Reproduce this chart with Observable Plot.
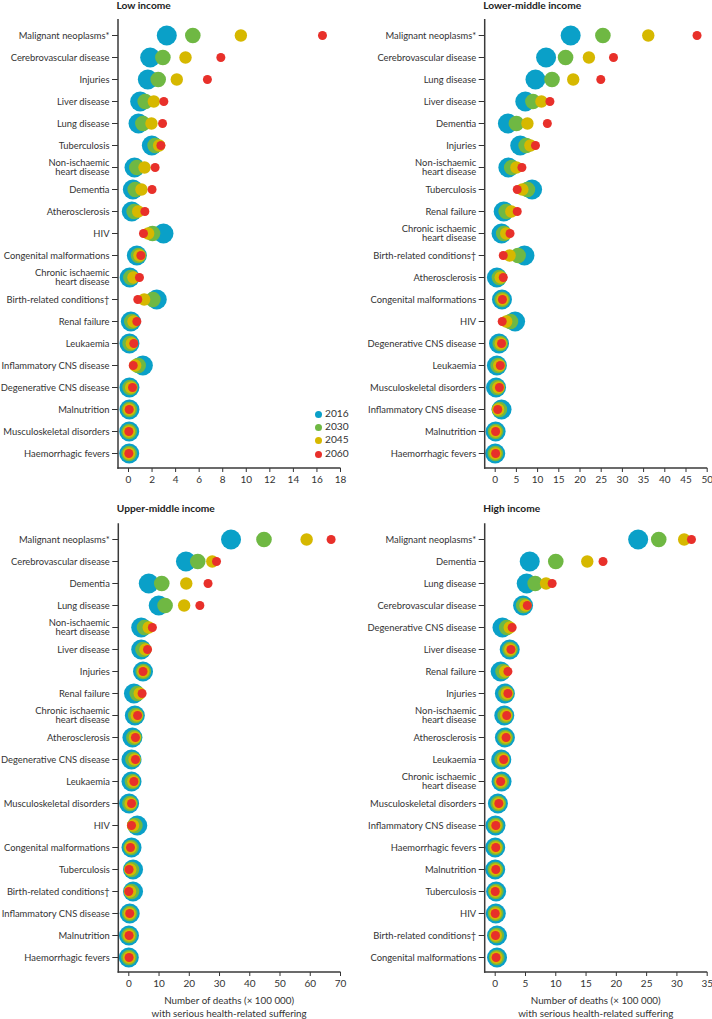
<!DOCTYPE html>
<html><head><meta charset="utf-8">
<script src="https://cdn.jsdelivr.net/npm/d3@7"></script>
<script src="https://cdn.jsdelivr.net/npm/@observablehq/plot@0.6"></script>
<style>
html,body{margin:0;padding:0;background:#fff;}
#root{position:relative;width:712px;height:1019px;font-family:Lato,"Open Sans",sans-serif;color:#222;overflow:hidden;}
.panel{position:absolute;}
.panel svg{overflow:visible;}
.title{position:absolute;font-weight:bold;font-size:10.2px;line-height:11px;white-space:nowrap;color:#222;}
.xlab{position:absolute;font-size:9.8px;text-align:center;line-height:13px;white-space:nowrap;color:#333;}
.leg{position:absolute;font-size:10.2px;white-space:nowrap;color:#333;}
.leg span.d{position:absolute;width:7px;height:7px;border-radius:50%;}
</style>
</head><body><div id="root"></div>
<script>
const years = ["2016","2030","2045","2060"];
const colors = ["#0aa0c8","#6fb843","#d6b800","#e8302a"];
const radii = [10, 7.8, 6.2, 4.5];

const lowCats = ["Malignant neoplasms*","Cerebrovascular disease","Injuries","Liver disease","Lung disease","Tuberculosis","Non-ischaemic heart disease","Dementia","Atherosclerosis","HIV","Congenital malformations","Chronic ischaemic heart disease","Birth-related conditions†","Renal failure","Leukaemia","Inflammatory CNS disease","Degenerative CNS disease","Malnutrition","Musculoskeletal disorders","Haemorrhagic fevers"];
const low2016 = [3.25,1.84,1.64,0.99,0.85,1.98,0.51,0.37,0.28,2.97,0.71,0.1,2.4,0.2,0.08,1.22,0.08,0.08,0.06,0.06];
const low2030 = [5.46,2.92,2.52,1.42,1.22,2.26,0.71,0.57,0.48,2.04,0.85,0.2,2.07,0.28,0.14,0.82,0.14,0.07,0.05,0.05];
const low2045 = [9.54,4.84,4.1,2.15,1.95,2.6,1.36,1.1,0.82,1.67,0.93,0.42,1.33,0.42,0.28,0.57,0.22,0.06,0.04,0.04];
const low2060 = [16.47,7.84,6.7,3.0,2.89,2.75,2.26,2.0,1.39,1.27,1.05,0.93,0.79,0.71,0.45,0.4,0.34,0.06,0.03,0.03];

const lmCats = ["Malignant neoplasms*","Cerebrovascular disease","Lung disease","Liver disease","Dementia","Injuries","Non-ischaemic heart disease","Tuberculosis","Renal failure","Chronic ischaemic heart disease","Birth-related conditions†","Atherosclerosis","Congenital malformations","HIV","Degenerative CNS disease","Leukaemia","Musculoskeletal disorders","Inflammatory CNS disease","Malnutrition","Haemorrhagic fevers"];
const lm2016 = [17.8,12.0,9.5,7.1,3.0,5.9,3.1,8.7,2.0,1.5,6.9,0.4,1.6,4.7,0.9,0.4,0.2,1.5,0.1,0.0];
const lm2030 = [25.4,16.6,13.4,8.9,5.0,7.3,3.9,7.6,2.6,2.0,5.4,1.0,1.65,3.6,1.2,0.7,0.5,1.0,0.1,0.05];
const lm2045 = [36.1,22.1,18.4,10.9,7.6,8.3,5.0,6.4,3.8,2.6,3.4,1.3,1.7,2.6,1.3,0.95,0.75,0.7,0.1,0.07];
const lm2060 = [47.6,27.9,24.9,12.9,12.3,9.5,6.3,5.2,5.2,3.5,1.9,1.9,1.7,1.65,1.5,1.2,1.0,0.6,0.1,0.1];

const umCats = ["Malignant neoplasms*","Cerebrovascular disease","Dementia","Lung disease","Non-ischaemic heart disease","Liver disease","Injuries","Renal failure","Chronic ischaemic heart disease","Atherosclerosis","Degenerative CNS disease","Leukaemia","Musculoskeletal disorders","HIV","Congenital malformations","Tuberculosis","Birth-related conditions†","Inflammatory CNS disease","Malnutrition","Haemorrhagic fevers"];
const um2016 = [33.8,18.9,6.6,9.9,4.1,4.1,4.7,1.7,2.0,1.2,0.9,0.9,0.1,2.8,0.9,1.4,1.4,0.3,0.05,0.0];
const um2030 = [44.7,22.8,10.9,12.0,5.2,4.7,4.8,2.8,2.3,1.7,1.4,1.2,0.4,2.0,0.75,0.9,0.9,0.3,0.1,0.05];
const um2045 = [58.8,27.6,19.0,18.3,6.6,5.5,4.8,3.6,2.6,2.0,1.9,1.5,0.6,1.4,0.6,0.5,0.4,0.3,0.1,0.1];
const um2060 = [66.9,29.0,26.2,23.5,7.8,6.2,4.7,4.4,2.9,2.2,2.2,1.7,0.9,0.9,0.55,0.1,0.0,0.3,0.1,0.1];

const hiCats = ["Malignant neoplasms*","Dementia","Lung disease","Cerebrovascular disease","Degenerative CNS disease","Liver disease","Renal failure","Injuries","Non-ischaemic heart disease","Atherosclerosis","Leukaemia","Chronic ischaemic heart disease","Musculoskeletal disorders","Inflammatory CNS disease","Haemorrhagic fevers","Malnutrition","Tuberculosis","HIV","Birth-related conditions†","Congenital malformations"];
const hi2016 = [23.6,5.7,5.2,4.6,1.2,2.4,0.9,1.6,1.5,1.6,1.0,1.05,0.45,0.05,0.0,0.0,0.15,0.1,0.3,0.3];
const hi2030 = [27.0,10.0,6.6,4.7,1.9,2.45,1.3,1.8,1.65,1.65,1.15,1.0,0.5,0.07,0.05,0.03,0.1,0.07,0.2,0.25];
const hi2045 = [31.2,15.2,8.4,5.0,2.4,2.5,1.65,1.95,1.8,1.7,1.3,0.95,0.55,0.09,0.1,0.05,0.05,0.05,0.1,0.2];
const hi2060 = [32.4,17.8,9.4,5.3,2.8,2.6,2.1,2.1,1.9,1.8,1.4,0.9,0.6,0.1,0.1,0.1,0.0,0.0,0.05,0.15];

const lowTicks = [0,2,4,6,8,10,12,14,16,18];
const lmTicks = [0,5,10,15,20,25,30,35,40,45,50];
const umTicks = [0,10,20,30,40,50,60,70];
const hiTicks = [0,5,10,15,20,25,30,35];

const panels = [
  {title:"Low income", cats:lowCats, series:[low2016,low2030,low2045,low2060], ticks:lowTicks, left:0, top:0, ml:118, mr:16, mt:19, h:490, mb:22},
  {title:"Lower-middle income", cats:lmCats, series:[lm2016,lm2030,lm2045,lm2060], ticks:lmTicks, left:356, top:0, ml:128.7, mr:5.3, mt:19, h:490, mb:22},
  {title:"Upper-middle income", cats:umCats, series:[um2016,um2030,um2045,um2060], ticks:umTicks, left:0, top:500, ml:118.3, mr:16, mt:23.3, h:519, mb:47},
  {title:"High income", cats:hiCats, series:[hi2016,hi2030,hi2045,hi2060], ticks:hiTicks, left:356, top:500, ml:128.7, mr:5.3, mt:23.3, h:519, mb:47}
];

const root = document.getElementById("root");
const fmt = d => d.replace(" heart disease", "\nheart disease");

// axis lines drawn from the frame dimensions
const axisLines = (index, scales, values, dims) => {
  const g = d3.create("svg:g");
  const x0 = dims.marginLeft, x1 = dims.width - dims.marginRight;
  const y0 = dims.marginTop, y1 = dims.height - dims.marginBottom;
  g.append("line").attr("x1", x0).attr("x2", x0).attr("y1", y0).attr("y2", y1 + 0.7)
    .attr("stroke", "#3a3a3a").attr("stroke-width", 1.5);
  g.append("line").attr("x1", x0 - 0.7).attr("x2", x1 + 0.5).attr("y1", y1).attr("y2", y1)
    .attr("stroke", "#3a3a3a").attr("stroke-width", 1.5);
  return g.node();
};

panels.forEach((p, pi) => {
  const W = 356;
  const rangeW = W - p.ml - p.mr;
  const xmax = p.ticks[p.ticks.length - 1];
  const xmin = -10 * xmax / (rangeW - 10);
  const rows = [];
  p.cats.forEach((c, i) => years.forEach((y, k) => rows.push({cause: c, year: y, k, value: p.series[k][i]})));
  const marks = years.map((y, k) => Plot.dot(rows.filter(d => d.k === k), {x: "value", y: "cause", r: radii[k], fill: colors[k], stroke: "none"}));
  marks.push(axisLines);
  const svg = Plot.plot({
    width: W, height: p.h,
    marginLeft: p.ml, marginRight: p.mr, marginTop: p.mt, marginBottom: p.mb,
    style: {fontFamily: "Lato, 'Open Sans', sans-serif", fontSize: "9.4px", color: "#333", background: "transparent", overflow: "visible"},
    x: {domain: [xmin, xmax], ticks: p.ticks, tickFormat: d => String(d), tickSize: 4, tickPadding: 3, label: null},
    y: {domain: p.cats, tickSize: 6, tickPadding: 3, tickFormat: fmt, label: null},
    marks
  });
  svg.querySelectorAll('[aria-label="x-axis tick label"] text').forEach(t => t.style.fontSize = "10px");
  const wrap = document.createElement("div");
  wrap.className = "panel";
  wrap.style.left = p.left + "px";
  wrap.style.top = p.top + "px";
  wrap.appendChild(svg);
  root.appendChild(wrap);
  const t = document.createElement("div");
  t.className = "title";
  t.textContent = p.title;
  t.style.left = (p.left + p.ml - 1.5) + "px";
  t.style.top = (p.top + (pi < 2 ? 0 : 3)) + "px";
  root.appendChild(t);
  if (pi >= 2) {
    const xl = document.createElement("div");
    xl.className = "xlab";
    xl.innerHTML = "Number of deaths (× 100 000)<br>with serious health-related suffering";
    const cx = p.left + p.ml + rangeW / 2;
    xl.style.left = (cx - 100) + "px";
    xl.style.width = "200px";
    xl.style.top = "994px";
    root.appendChild(xl);
  }
});

// legend in Low income panel
years.forEach((y, k) => {
  const el = document.createElement("div");
  el.className = "leg";
  el.style.left = "325px";
  el.style.top = (407 + k * 13.2) + "px";
  el.innerHTML = `<span class="d" style="background:${colors[k]};left:-10.5px;top:4px"></span>${y}`;
  root.appendChild(el);
});
</script>
</body></html>
